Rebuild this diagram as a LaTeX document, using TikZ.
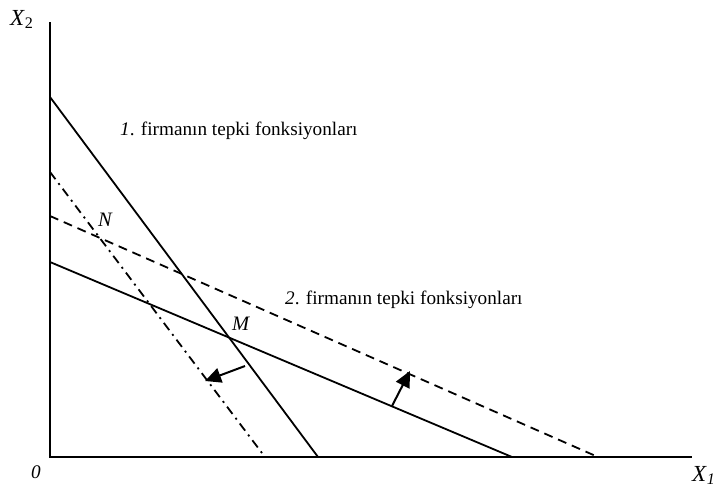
\documentclass[tikz,border=0pt]{standalone}
\usepackage{fontspec}
\setmainfont{Liberation Serif}
\usetikzlibrary{arrows.meta}
\begin{document}
\begin{tikzpicture}[x=1pt,y=-1pt,
  ln/.style={line width=1.8pt},
  dsh/.style={ln,dash pattern=on 9pt off 6pt},
  dd/.style={ln,dash pattern=on 9pt off 5pt on 2pt off 5pt},
  arr/.style={line width=2pt,-{Triangle[length=16pt,width=15pt]}},
  lbl/.style={font=\fontsize{19.2}{22}\selectfont,inner sep=0pt},
  axl/.style={font=\fontsize{23}{26}\selectfont,inner sep=0pt}]
\useasboundingbox (0,0) rectangle (716,488);
% axes
\coordinate (O) at (50,457);
\coordinate (ytop) at (50,22);
\coordinate (xend) at (692,457);
\draw[ln] (ytop) -- (O) -- (xend);
% endpoints
\coordinate (a1) at (50,97);   \coordinate (b1) at (318,457);
\coordinate (a2) at (50,172);  \coordinate (b2) at (265,457);
\coordinate (a3) at (50,262);  \coordinate (b3) at (512,457);
\coordinate (a4) at (50,216);  \coordinate (b4) at (598,457);
\draw[ln] (a1) -- (b1);
\draw[dd] (a2) -- (b2);
\draw[ln] (a3) -- (b3);
\draw[dsh] (a4) -- (b4);
% arrows
\coordinate (p1) at (245,366); \coordinate (q1) at (205,381);
\coordinate (p2) at (392,406); \coordinate (q2) at (410,371);
\draw[arr] (p1) -- (q1);
\draw[arr] (p2) -- (q2);
% labels
\node[axl,anchor=base west] (x2) at (10,25) {\textit{X}\textsubscript{2}};
\node[axl,anchor=base west] (x1) at (692,481) {\textit{X}\textsubscript{\textit{1}}};
\node[lbl,anchor=base west] (o) at (31,478) {\textit{0}};
\node[lbl,anchor=base west] (l1) at (120,135) {\textit{1}. firmanın tepki fonksiyonları};
\node[lbl,anchor=base west] (l2) at (285,304) {\textit{2}. firmanın tepki fonksiyonları};
\node[lbl,anchor=base west,font=\fontsize{20.5}{22}\selectfont] (m) at (232,330) {\textit{M}};
\node[lbl,anchor=base west,font=\fontsize{20.5}{22}\selectfont] (n) at (98,226) {\textit{N}};
\end{tikzpicture}
\end{document}
